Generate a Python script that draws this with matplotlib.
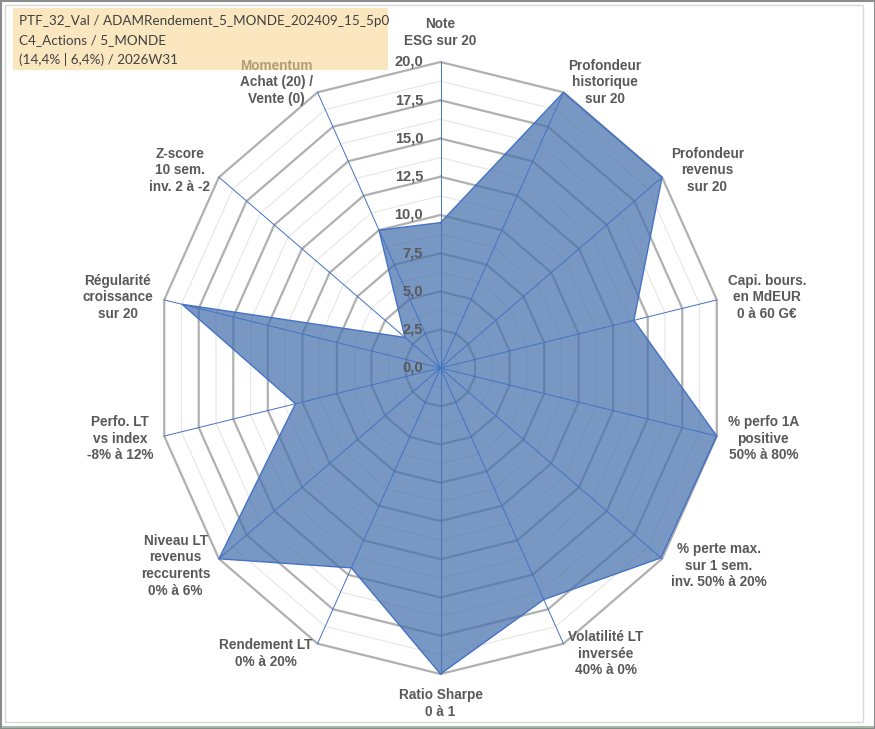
import numpy as np
import matplotlib
matplotlib.use("Agg")
import matplotlib.pyplot as plt
from matplotlib.patches import Rectangle

# Données (échelle 0 à 20)
categories = [
    "Note\nESG sur 20",
    "Profondeur\nhistorique\nsur 20",
    "Profondeur\nrevenus\nsur 20",
    "Capi. bours.\nen MdEUR\n0 à 60 G€",
    "% perfo 1A\npositive\n50% à 80%",
    "% perte max.\nsur 1 sem.\ninv. 50% à 20%",
    "Volatilité LT\ninversée\n40% à 0%",
    "Ratio Sharpe\n0 à 1",
    "Rendement LT\n0% à 20%",
    "Niveau LT\nrevenus\nreccurents\n0% à 6%",
    "Perfo. LT\nvs index\n-8% à 12%",
    "Régularité\ncroissance\nsur 20",
    "Z-score\n10 sem.\ninv. 2 à -2",
    "Momentum\nAchat (20) /\nVente (0)",
]
scores = [9.5, 20.0, 20.0, 14.0, 20.0, 19.9, 16.8, 20.0, 14.5, 20.0, 10.5, 18.7, 3.2, 10.0]
ticks = [0.0, 2.5, 5.0, 7.5, 10.0, 12.5, 15.0, 17.5, 20.0]
minor_ticks = [1.25, 3.75, 6.25, 8.75, 11.25, 13.75, 16.25, 18.75]
title_lines = [
    "PTF_32_Val / ADAMRendement_5_MONDE_202409_15_5p0",
    "C4_Actions / 5_MONDE",
    "(14,4% | 6,4%) / 2026W31",
]

W, H, DPI = 875, 729, 100
fig = plt.figure(figsize=(W / DPI, H / DPI), dpi=DPI)

# axe cartésien : 1 unité = 14.17 px en x, 15.3 px en y (graphique un peu écrasé)
cx, cy = 440.5, 368.0
ux, uy = 283.4 / 20, 306.0 / 20
xl, yl = 30.0, 23.5
ax = fig.add_axes([(cx - xl * ux) / W, (H - cy - yl * uy) / H, 2 * xl * ux / W, 2 * yl * uy / H])
ax.set_xlim(-xl, xl)
ax.set_ylim(-yl, yl)
ax.axis("off")

n = len(categories)
theta = 2 * np.pi * np.arange(n) / n
s, c = np.sin(theta), np.cos(theta)
s_closed, c_closed = np.append(s, s[0]), np.append(c, c[0])

# grilles polygonales
for r in minor_ticks:
    ax.plot(r * s_closed, r * c_closed, color="#E6E6E6", lw=0.8, zorder=1)
for r in ticks[1:]:
    ax.plot(r * s_closed, r * c_closed, color="#B0B0B0", lw=1.6, zorder=2)

# série
vals = np.array(scores + scores[:1])
ax.fill(vals * s_closed, vals * c_closed, color="#4471AD", alpha=0.72, lw=0, zorder=3)
ax.plot(vals * s_closed, vals * c_closed, color="#4472C4", lw=1.0, zorder=5)

# rayons
for i in range(n):
    ax.plot([0, 20 * s[i]], [0, 20 * c[i]], color="#4472C4", lw=0.7, zorder=4)

# étiquettes de l'échelle
for t in ticks:
    ax.annotate(f"{t:.1f}".replace(".", ","), (0, t), xytext=(-12.5, 0), textcoords="offset points",
                ha="right", va="center", fontsize=10.5, fontweight="bold", color="#595959",
                family="Liberation Sans", zorder=6)

# étiquettes des catégories
off = 8.0  # points
for i, lab in enumerate(categories):
    if abs(s[i]) < 0.1:
        ha = "center"
        va = "bottom" if c[i] > 0 else "top"
        dx, dy = 0, 10 * np.sign(c[i])
    else:
        ha = "left" if s[i] > 0 else "right"
        va = "center"
        dx, dy = off * s[i], off * c[i]
    ax.annotate(lab, (20 * s[i], 20 * c[i]), xytext=(dx, dy), textcoords="offset points",
                ha=ha, va=va, ma="center", fontsize=9.8, fontweight="bold", color="#595959",
                family="Liberation Sans", linespacing=1.25, annotation_clip=False, zorder=6)

# cartouche du titre (semi-transparent, comme l'original)
fig.patches.append(Rectangle((13 / W, 1 - 70 / H), 375 / W, 62 / H, transform=fig.transFigure,
                             facecolor="#F9D58C", alpha=0.55, edgecolor="none", zorder=10))
for k, line in enumerate(title_lines):
    fig.text(19 / W, 1 - (21 + 19.5 * k) / H, line, ha="left", va="center", fontsize=9.7,
             family="Lato", color="#404040", zorder=11)

# cadres
fig.patches.append(Rectangle((0.5 / W, 0.5 / H), 1 - 1 / W, 1 - 1 / H, transform=fig.transFigure,
                             fill=False, edgecolor="#8C8C8C", lw=1.5, zorder=12))
fig.patches.append(Rectangle((5 / W, 1 - 722 / H), 858 / W, 717 / H, transform=fig.transFigure,
                             fill=False, edgecolor="#D9D9D9", lw=1.0, zorder=12))
fig.lines.append(plt.Line2D([0, 1], [2 / H, 2 / H], transform=fig.transFigure, color="#8FAF8F", lw=1.2))

fig.savefig("out.png", dpi=DPI)
